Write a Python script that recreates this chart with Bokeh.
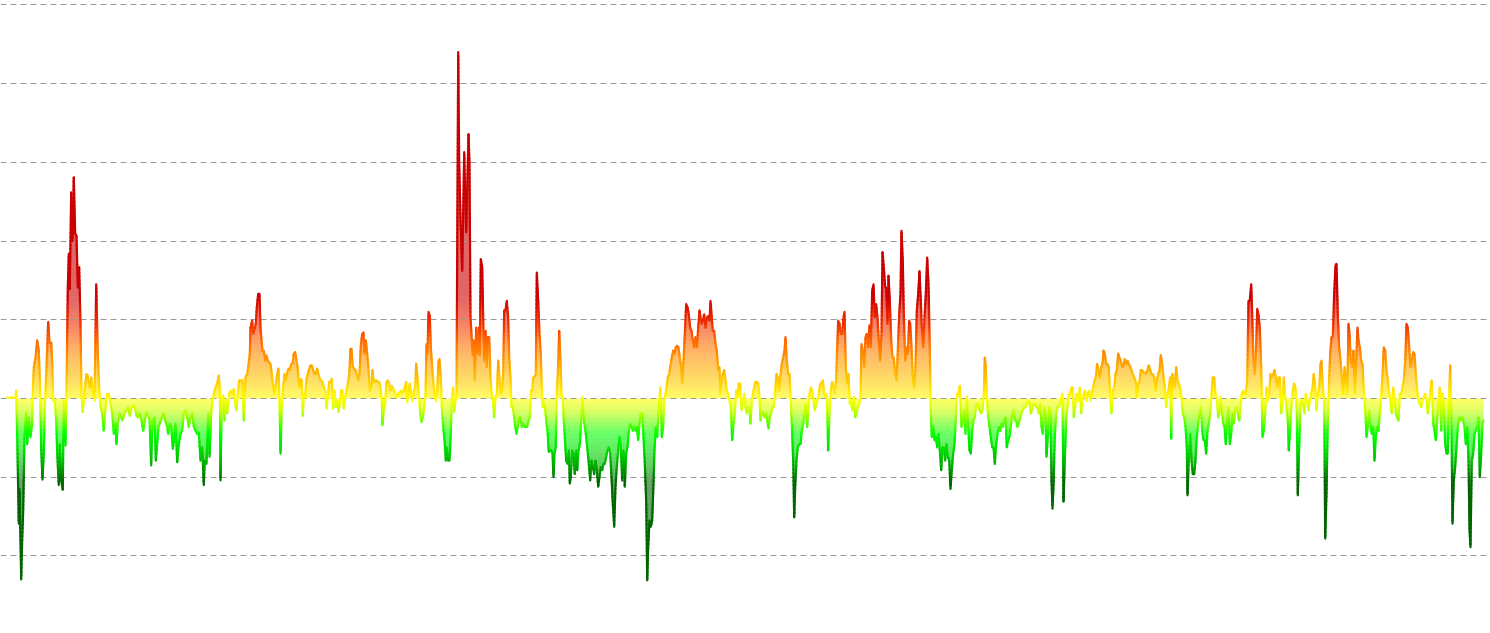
import numpy as np
from bokeh.plotting import figure
from bokeh.models import Range1d, Grid, SingleIntervalTicker
from bokeh.embed import file_html
from bokeh.resources import INLINE

# (day, value) readings, split into consecutive stretches of the series
seg1 = [(6.7, 0.01), (15, 0.01), (15.7, 0.10), (16.7, -0.50), (18.3, -1.59), (19, -1.15), (20.7, -2.30), (21.7, -1.80),
        (22.7, -1.42), (24, -0.49), (25.7, -0.17), (26.7, -0.58), (28.3, -0.24), (30, -0.49), (31.7, -0.32), (32.3, 0.10),
        (33.3, 0.40), (35, 0.52), (36.7, 0.74), (38.3, 0.61), (39.3, 0.27), (40.7, -0.66), (42, -1.03), (43.3, -0.70),
        (44.3, -0.11), (45.7, 0.31), (47.7, 0.97), (49, 0.71), (50.7, 0.71), (51.7, 0.48), (52.7, -0.03), (54.3, -0.03),
        (55.7, -0.28), (56.7, -0.70), (58.3, -1.10), (59.3, -0.58), (60.7, -1.04), (62.3, -1.16), (63.3, -0.03), (65, -0.60),
        (66, 0.10), (67.3, 1.41), (68.3, 1.84), (69.3, 1.39), (70.7, 2.62), (72, 2.00), (73.3, 2.81), (74.7, 2.09),
        (76, 2.07), (77.3, 1.41), (78.7, 1.67), (80, 0.95), (81, 0.06), (82.3, -0.17), (84, 0.10), (86, 0.31),
        (87.3, 0.29), (89.3, 0.14), (90.7, 0.27), (92.3, 0.10), (94, -0.03), (95.7, 1.45), (97.3, 0.57), (98.7, 0.14),
        (100, -0.11), (101.7, -0.19), (103.3, -0.41), (105, -0.11), (106.7, 0.06), (108.3, 0.06), (110, -0.07), (111.7, -0.19),
        (113.3, -0.45), (115, -0.32), (116, -0.58), (117.3, -0.32), (119.3, -0.19), (120.7, -0.24), (122, -0.28), (124, -0.19),
        (126, -0.15), (127.3, -0.11), (129.3, -0.22), (130.7, -0.13), (132.7, -0.09), (134.3, -0.11), (136, -0.22), (137.3, -0.24),
        (139.3, -0.19), (140.7, -0.26), (142.7, -0.41), (144, -0.32), (145.7, -0.17), (147.3, -0.22), (149, -0.26), (150.7, -0.85),
        (152, -0.28), (154, -0.24), (155.3, -0.79), (156.7, -0.58), (158, -0.36), (159.3, -0.32), (161.3, -0.24), (163.3, -0.19),
        (164.7, -0.28), (166.7, -0.36), (167.7, -0.45), (169.3, -0.32), (170.7, -0.36), (172.3, -0.64), (173.7, -0.53), (175, -0.32),
        (176.7, -0.81), (178.3, -0.58), (180, -0.45), (181.7, -0.41), (183.3, -0.19), (185, -0.15), (186.7, -0.24), (188.3, -0.36),
        (190, -0.24), (191.7, -0.19), (193.3, -0.36), (195, -0.41), (196.7, -0.45), (198.3, -0.43), (200, -0.79), (201.7, -0.62),
        (203.3, -1.10), (204.3, -0.79), (206, -0.83), (207.7, -0.19), (209, -0.74), (210.7, -0.19), (212, -0.03), (213.3, 0.06),
        (215, 0.14), (216.7, 0.19), (218.3, 0.29), (219.3, 0.14), (220, -1.04), (221.3, -0.03), (222.7, 0.04), (224, -0.28),
        (225.3, -0.03), (226.7, -0.19), (228.7, 0.06), (230, 0.10), (231.7, 0.06), (233.3, 0.12), (234.7, -0.07), (236, -0.15),
        (237.3, 0.06), (238.7, 0.23), (240, 0.23), (242, 0.23), (243.3, -0.28), (245, 0.27), (246.7, 0.31), (248.3, 0.46),
        (249.3, 0.57)]

seg2 = [(250, 0.90), (251.7, 0.99), (252.7, 0.82), (254, 0.88), (255.3, 0.95), (256.3, 1.16), (257.7, 1.33), (259, 1.33),
        (260, 0.90), (261, 0.74), (262, 0.61), (263.3, 0.61), (264.7, 0.48), (266, 0.55), (267.3, 0.48), (268.7, 0.46),
        (270, 0.44), (271.3, 0.31), (272.7, 0.14), (274, 0.06), (275.3, 0.19), (276.7, 0.31), (278, 0.38), (279, -0.03),
        (280, -0.70), (281.3, -0.11), (282.7, 0.14), (284, 0.31), (285.3, 0.23), (286.7, 0.33), (288, 0.38), (289.3, 0.36),
        (290.7, 0.44), (292, 0.44), (293.3, 0.57), (294.7, 0.59), (296, 0.48), (297.3, 0.38), (298.7, 0.14), (300, 0.25),
        (301.3, 0.23), (302.3, -0.22), (303.3, 0.06), (304.7, 0.02), (306, 0.25), (307.3, 0.31), (308.7, 0.38), (310, 0.42),
        (311.3, 0.42), (312.7, 0.36), (314, 0.31), (315.3, 0.31), (316.7, 0.38), (318, 0.31), (319.3, 0.25), (320.7, 0.23),
        (322, 0.21), (323.3, 0.14), (324.7, 0.10), (326, -0.13), (327.3, 0.02), (328.7, 0.21), (330, 0.21), (331.3, 0.25),
        (332.7, -0.13), (334, 0.10), (335.3, -0.11), (336.7, -0.03), (338, -0.17), (339.3, -0.07), (340.7, 0.10), (342, 0.10),
        (343.3, -0.13), (344.7, 0.02), (346, 0.10), (347.3, 0.19), (348.7, 0.31), (350, 0.63), (351, 0.63), (352.3, 0.40),
        (353.7, 0.38), (355, 0.36), (356.3, 0.31), (357.7, 0.23), (359, 0.31), (360.3, 0.67), (361.7, 0.82), (363, 0.84),
        (364, 0.57), (365.3, 0.74), (366.7, 0.57), (368, 0.38), (369.3, 0.10), (370.7, 0.14), (372, 0.36), (373.3, 0.21),
        (374.7, 0.23), (376, 0.23), (377.3, 0.21), (378.7, 0.21), (380, 0.14), (381.3, -0.03), (382, -0.34), (383.3, -0.13),
        (384.7, -0.07), (385.7, 0.19), (387, 0.23), (388.3, 0.21), (389.7, 0.10), (391, 0.16), (392.3, 0.14), (393.7, 0.10),
        (395, 0.06), (396.3, 0.02), (397.7, 0.06), (399, 0.08), (400.3, 0.10), (401.7, 0.06), (403, 0.10), (404.3, 0.14),
        (405.7, 0.21), (406.7, -0.05), (408, 0.10), (409.3, 0.19), (410.7, 0.06), (412, -0.03), (413.3, 0.10), (414.7, 0.14),
        (415.7, 0.44), (417, 0.27), (418.3, 0.06), (419.7, -0.19), (421, -0.30), (422.3, -0.24), (423.7, -0.11), (425, 0.06),
        (426, 0.69), (427, 0.57), (428, 1.10), (429.3, 1.05), (430.3, 0.65), (431.3, 0.48), (432.7, 0.23), (434, 0.06),
        (435.3, -0.03), (436.7, 0.10), (438, 0.48), (439, 0.50), (440.3, 0.27), (441.3, -0.11), (442.7, -0.36), (444, -0.53),
        (445.3, -0.79), (446.3, -0.62), (447.7, -0.79), (449, -0.79), (450.3, -0.45), (451.3, -0.03), (452.7, 0.14), (453.7, -0.17),
        (455, -0.03), (456, 0.06), (457.7, 4.40), (458.7, 3.00), (460, 2.30), (461.7, 1.62), (463.7, 3.13), (465.7, 2.11),
        (468, 3.36), (469, 2.99), (470, 1.03), (472.3, 0.55), (473.3, 0.74), (474.3, 0.23), (475.7, 0.90), (477, 0.57),
        (478.3, 0.90), (479.3, 0.55), (480.3, 1.77), (481.7, 1.67), (482.7, 1.03), (483.7, 0.48), (485, 0.86), (486.3, 0.40),
        (487.3, 0.78), (488.7, 0.78)]

seg3 = [(490, 0.27), (491, 0.06), (492.3, 0.02), (493.7, -0.24), (495, 0.02), (496.3, 0.06), (497.7, 0.48), (498.7, 0.31),
        (500, 0.06), (501.3, 0.10), (502.7, 0.31), (503.7, 1.12), (505, 1.12), (506.3, 1.24), (507.7, 1.03), (508.7, 0.52),
        (510, 0.27), (511, -0.11), (512.3, -0.11), (513.7, -0.24), (514.7, -0.36), (516, -0.45), (517.3, -0.36), (518.7, -0.24),
        (520, -0.24), (521.3, -0.36), (522.7, -0.32), (524, -0.36), (525.3, -0.36), (526.7, -0.36), (528, -0.28), (529.3, -0.24),
        (530.7, 0.10), (531.7, 0.10), (532.7, 0.27), (534, 0.27), (535.3, 0.31), (536.3, 1.60), (537.7, 1.24), (539, 0.82),
        (540.3, 0.57), (541.3, 0.14), (542.3, -0.11), (543.7, -0.07), (544.7, -0.15), (546, -0.32), (547, -0.41), (548.3, -0.68),
        (549.7, -0.66), (551, -0.66), (552, -0.70), (553, -1.00), (554, -0.70), (555.3, -0.62), (556.3, 0.10), (557.3, 0.31),
        (558.7, 0.86), (560, 0.48), (561, 0.06), (562.3, -0.03), (563.3, -0.28), (564.7, -0.58), (565.7, -0.79), (567, -0.83),
        (568.3, -0.66), (569.3, -1.08), (570.3, -1.00), (571.7, -0.66), (573, -0.70), (574.3, -0.96), (575.7, -0.66), (576.7, -0.91),
        (578, -0.66), (579.3, -0.58), (580.7, -0.28), (582, 0.02), (583.3, -0.28), (584.3, -0.36), (585.7, -0.49), (587, -0.66),
        (588.3, -0.83), (589.7, -1.04), (591, -0.79), (592.3, -0.87), (593.7, -0.96), (595, -0.79), (596.3, -0.91), (597.7, -1.12),
        (599, -1.00), (600.3, -0.87), (601.7, -0.91), (603, -0.83), (604.3, -0.83), (605.7, -0.74), (607, -0.66), (608.3, -0.62),
        (609.7, -0.70), (611, -1.00), (612.3, -1.34), (613.7, -1.63), (615, -1.12), (616.3, -0.87), (617.7, -0.66), (619, -0.49),
        (620.3, -0.62), (621.7, -1.04), (623, -0.66), (624.3, -1.12), (625.7, -0.70), (627, -0.62), (628.3, -0.41), (629.7, -0.32),
        (631, -0.36), (632.3, -0.41), (633.7, -0.36), (635, -0.41), (636.3, -0.36), (637.7, -0.53), (639, -0.32), (640.3, -0.19),
        (641.7, -0.19), (643, -0.49), (644.3, -0.83), (645.7, -1.31), (646.7, -2.31), (647.7, -1.89), (649, -1.55), (650.3, -1.63),
        (651.7, -1.55), (653, -1.08), (654, -0.66), (655.3, -0.36), (656.7, -0.49), (658, -0.19), (659.3, 0.06), (660, 0.14),
        (661.3, -0.49), (662.7, -0.36), (663.7, -0.03), (665, 0.06), (666, 0.14), (667.3, 0.27), (668.7, 0.31), (670, 0.42),
        (671.3, 0.52), (672.7, 0.61), (674, 0.57), (675.3, 0.65), (676.7, 0.67), (678, 0.65), (679.3, 0.52), (680.7, 0.40),
        (681.7, 0.19), (683, 0.48), (684.3, 0.82), (685.7, 1.20), (687, 1.16), (688.3, 1.07), (689.7, 0.90), (691, 0.86),
        (692.3, 0.74), (693.7, 0.65), (695, 0.78), (696.3, 0.65), (697.7, 0.90), (699, 1.12), (700, 1.03), (701.3, 0.95),
        (702.3, 0.99), (703.7, 1.07), (705, 0.90), (706.3, 1.03), (707.7, 1.05), (709, 0.99), (710, 1.24), (711.3, 1.03),
        (712.3, 0.86), (713.7, 0.86), (715, 0.69), (716.3, 0.61), (717.7, 0.36), (719, 0.40), (719.7, 0.06), (721, 0.23),
        (722.3, 0.31)]

seg4 = [(723.7, 0.36), (725, 0.23), (726.3, 0.10), (727.7, 0.06), (729, -0.03), (730.3, -0.11), (731.7, -0.53), (733, -0.32),
        (734.3, -0.19), (735.7, 0.10), (737, 0.02), (738.3, 0.19), (739.7, 0.19), (741, -0.15), (742.3, -0.07), (743.7, 0.06),
        (745, -0.11), (746.3, -0.19), (747.7, -0.11), (749, -0.15), (750, -0.32), (751.3, -0.03), (752.3, 0.06), (753.7, 0.14),
        (755, 0.21), (756.3, 0.21), (757.7, 0.19), (758.7, 0.06), (760, -0.28), (761.3, -0.19), (762.7, -0.17), (764, -0.24),
        (765.3, -0.19), (766.7, -0.28), (768, -0.38), (769.3, -0.24), (770.7, -0.19), (772, -0.11), (773.3, -0.11), (774.7, 0.10),
        (776, 0.31), (777.3, 0.27), (778.7, 0.10), (780, 0.31), (781.3, 0.44), (782.7, 0.52), (784, 0.61), (785, 0.78),
        (786.3, 0.48), (787.7, 0.31), (789, 0.31), (790.3, -0.03), (791.3, -0.32), (792.7, -0.79), (793.7, -1.51), (794.7, -1.12),
        (796, -0.79), (797.3, -0.62), (798.7, -0.58), (800, -0.58), (801.3, -0.41), (802.7, -0.32), (804, -0.19), (805.3, -0.07),
        (806.7, -0.36), (807.7, -0.19), (809, 0.06), (810.3, 0.14), (811.7, 0.10), (813, -0.03), (814.3, -0.15), (815.7, -0.07),
        (817, -0.03), (818.3, 0.06), (819.7, 0.19), (821, 0.19), (822.3, 0.23), (823.7, 0.06), (825, 0.02), (826.3, 0.06),
        (827.7, -0.66), (829, -0.19), (830.3, 0.10), (831.7, 0.21), (833, 0.14), (834.3, 0.06), (835.7, 0.27), (836.7, 0.65),
        (837.7, 0.99), (839, 0.95), (840.3, 0.82), (841.7, 0.82), (843, 1.03), (844, 1.10), (845.3, 0.40), (846.7, 0.19),
        (848, 0.31), (849.3, -0.07), (850.7, -0.07), (852, -0.15), (853.3, 0.02), (854.7, -0.24), (856, -0.19), (857.3, -0.11),
        (858.7, -0.07), (860, 0.02), (861, 0.69), (862.3, 0.61), (863.7, 0.40), (865, 0.78), (866.3, 0.82), (867.7, 0.65),
        (869, 0.93), (870.3, 0.65), (871.7, 1.37), (873, 1.45), (874.3, 1.03), (875.7, 1.20), (877, 1.03), (878.3, 0.74),
        (879.7, 0.48), (881, 0.82), (882, 1.86), (883.3, 1.67), (884.7, 1.41), (885.7, 1.41), (887, 0.95), (888, 1.56),
        (889.3, 1.24), (890.7, 0.74), (892, 0.52), (893.3, 0.52), (894.7, 0.31), (896, 0.23), (897.3, 0.61), (898.7, 1.07),
        (900, 1.33), (901, 2.13), (902.3, 1.75), (903.3, 1.07), (904.7, 0.48), (906, 0.65), (907.3, 0.57), (908.7, 0.99),
        (909.7, 0.95), (911, 0.65), (912.3, 0.27), (913.7, 0.14), (915, 0.40), (916.3, 1.12), (917.7, 1.33), (919, 1.62),
        (920.3, 1.24), (921.3, 0.90), (922.7, 0.65), (924, 1.03), (925.3, 1.33), (926.7, 1.79), (928, 1.45), (929.3, 0.65),
        (930.3, -0.19), (931.3, -0.49), (932.7, -0.36), (934, -0.53), (935.3, -0.49), (936.7, -0.62), (938, -0.45), (939.3, -0.66),
        (940.7, -0.91), (942, -0.62), (943.3, -0.62), (944.7, -0.79), (946, -0.58), (947.3, -0.74), (948.7, -0.79), (950, -1.15),
        (951.3, -0.91), (952.7, -0.70), (954, -0.58), (955.3, -0.24), (956.7, 0.06), (958, 0.06), (959.3, 0.16)]

seg5 = [(961, -0.36), (962.3, -0.28), (963.7, -0.15), (965, -0.45), (966.3, 0.02), (967.7, -0.36), (969, -0.66), (970.3, -0.70),
        (971.7, -0.41), (973, -0.28), (974.3, -0.24), (975.7, -0.07), (977, -0.07), (978.3, -0.11), (979.7, -0.17), (981, -0.19),
        (982.3, -0.11), (983.3, 0.06), (984.3, 0.52), (985.3, 0.40), (986.3, 0.02), (987.7, -0.24), (989, -0.36), (990.3, -0.49),
        (991.7, -0.62), (993, -0.62), (994.3, -0.83), (995.7, -0.58), (997, -0.45), (998.3, -0.36), (999.7, -0.41), (1001, -0.32),
        (1002.3, -0.36), (1003.7, -0.28), (1005, -0.24), (1006.3, -0.62), (1007.7, -0.53), (1009, -0.49), (1010.3, -0.36), (1011.7, -0.19),
        (1013, -0.15), (1014.3, -0.28), (1015.7, -0.28), (1017, -0.36), (1018.3, -0.32), (1019.7, -0.24), (1021, -0.19), (1022.3, -0.15),
        (1023.7, -0.11), (1025, -0.11), (1026.3, -0.07), (1027.7, -0.03), (1029, -0.05), (1030.3, -0.19), (1031.7, -0.15), (1033, -0.07),
        (1034.3, -0.07), (1035.7, -0.11), (1037, -0.11), (1038.3, -0.19), (1039.7, -0.07), (1041, -0.36), (1042.3, -0.45), (1043.7, -0.11),
        (1045, -0.19), (1046, -0.74), (1047.3, -0.49), (1048.7, -0.11), (1050, -0.19), (1051, -1.04), (1052, -1.40), (1053, -1.12),
        (1054.3, -0.49), (1055.7, -0.19), (1057, -0.11), (1058.3, -0.11), (1059.7, -0.07), (1061, 0.02), (1062, 0.06), (1063, -1.31),
        (1064.3, -0.79), (1065.7, -0.28), (1067, -0.11), (1068.3, 0.06), (1069.7, 0.06), (1071, 0.14), (1072.3, 0.14), (1073.3, -0.24),
        (1074.7, -0.11), (1076, 0.06), (1077, 0.06), (1078.3, -0.03), (1079.3, 0.14), (1080.7, -0.19), (1082, -0.03), (1083.3, 0.06),
        (1084.7, 0.10), (1086, -0.03), (1087.3, 0.06), (1088.7, 0.10), (1090, -0.03), (1091.3, 0.06), (1092.7, 0.14), (1094, 0.23),
        (1095.3, 0.27), (1096.7, 0.44), (1098, 0.36), (1099.3, 0.27), (1100.7, 0.40), (1102, 0.44), (1103, 0.61), (1104.3, 0.57),
        (1105.7, 0.44), (1107, 0.44), (1108.3, 0.40), (1109.7, 0.02), (1111, -0.19), (1112.3, 0.10), (1113.7, 0.14), (1115, 0.31),
        (1116.3, 0.36), (1117.7, 0.57), (1119, 0.52), (1120.3, 0.48), (1121.7, 0.40), (1123, 0.42), (1124.3, 0.50), (1125.7, 0.44),
        (1127, 0.48), (1128.3, 0.44), (1129.7, 0.40), (1131, 0.36), (1132.3, 0.31), (1133.7, 0.27), (1135, 0.23), (1136.3, 0.02),
        (1137.7, 0.19), (1139, 0.21), (1140.3, 0.36), (1141.7, 0.36), (1143, 0.33), (1144.3, 0.33), (1145.7, 0.31), (1147, 0.36),
        (1148.3, 0.42), (1149.7, 0.36), (1151, 0.31), (1152.3, 0.31), (1153.7, 0.27), (1155, 0.10), (1156.3, 0.23), (1157.7, 0.31),
        (1159, 0.36), (1160.3, 0.55), (1161.7, 0.44), (1163, 0.27), (1164.3, 0.14), (1165.7, -0.11), (1167, 0.06), (1168.3, 0.14),
        (1169.7, 0.27), (1170.7, -0.51), (1171.7, 0.31), (1173, 0.27), (1174.3, 0.14), (1175.7, 0.40), (1177, 0.23), (1178.3, 0.19),
        (1179.7, 0.14), (1181, 0.02), (1182.3, -0.19), (1183.7, -0.24), (1185, -0.36), (1186.3, -0.62), (1187, -1.23), (1188.3, -0.79),
        (1189.7, -0.45), (1191, -0.79), (1192.3, -0.96), (1193.7, -0.96), (1195, -0.79), (1196.3, -0.49), (1197.7, -0.32), (1199, -0.19),
        (1200.3, -0.11), (1201.7, -0.41), (1203, -0.53), (1204.3, -0.53), (1205.7, -0.70), (1207, -0.41), (1208.3, -0.32), (1209.7, -0.19),
        (1211, 0.06), (1212.3, 0.27), (1213.7, 0.27), (1215, 0.06), (1216.3, 0.02), (1217.7, -0.24), (1219, -0.19)]

seg6 = [(1220, 0.02), (1221.3, -0.15), (1222.7, -0.32), (1224, -0.36), (1225.3, -0.58), (1226.7, -0.28), (1228, -0.11), (1229.3, -0.58),
        (1230.7, -0.45), (1232, -0.19), (1233.3, -0.32), (1234.7, -0.15), (1236, -0.11), (1237.3, -0.19), (1238.7, -0.28), (1240, -0.11),
        (1241.3, 0.06), (1242.7, 0.10), (1244, 0.06), (1245.3, 0.06), (1246.7, 0.23), (1248, 1.24), (1249.3, 1.24), (1250.7, 1.45),
        (1251.7, 1.07), (1253, 0.48), (1254.3, 0.31), (1255.7, 0.69), (1256.7, 1.14), (1258, 1.07), (1259.3, 0.90), (1260.7, 0.40),
        (1262, -0.49), (1263.3, -0.41), (1264.7, -0.19), (1266, 0.14), (1267.3, -0.03), (1268.7, 0.06), (1270, 0.31), (1271.3, 0.27),
        (1272.7, 0.31), (1274, 0.36), (1275.3, 0.27), (1276.7, 0.14), (1278, 0.27), (1279.3, 0.27), (1280.7, -0.19), (1282, -0.07),
        (1283.3, 0.27), (1284.7, 0.02), (1286, -0.11), (1287.3, -0.28), (1288.3, -0.66), (1289.7, -0.36), (1291, -0.07), (1292.3, 0.10),
        (1293.7, 0.19), (1295, 0.14), (1296.3, -0.19), (1297.3, -1.23), (1298.7, -0.62), (1300, -0.11), (1301.3, -0.03), (1302.7, -0.07),
        (1304, -0.19), (1305.3, 0.06), (1306.7, -0.03), (1308, -0.15), (1309.3, -0.03), (1310.7, 0.06), (1312, 0.14), (1313.3, 0.31),
        (1314.7, 0.14), (1316, -0.15), (1317.3, 0.06), (1318.7, 0.14), (1320, 0.44), (1321, 0.48), (1322.3, 0.14), (1323.7, -0.03),
        (1324.7, -1.78), (1326, -1.21), (1327.3, -0.32), (1328.7, 0.27), (1329.7, 0.57), (1331, 0.78), (1332.3, 0.78), (1333.7, 1.33),
        (1335, 1.69), (1336, 1.71), (1337.3, 1.07), (1338.7, 0.65), (1340, 0.48), (1341.3, 0.27), (1342.7, 0.06), (1344, 0.40),
        (1345.3, 0.31), (1346.7, 0.06), (1348, 0.95), (1349, 0.82), (1350.3, 0.48), (1351.7, 0.40), (1353, 0.61), (1354.3, 0.06),
        (1355.7, 0.48), (1357, 0.90), (1358, 0.74), (1359.3, 0.65), (1360.7, 0.48), (1362, 0.44), (1363.3, 0.10), (1364.7, -0.15),
        (1366, -0.49), (1367.3, -0.36), (1368.7, -0.15), (1370, -0.36), (1371.3, -0.45), (1372.7, -0.36), (1374, -0.79), (1375.3, -0.49),
        (1376.7, -0.36), (1378, -0.41), (1379.3, -0.19), (1380.7, 0.02), (1382, 0.31), (1383.3, 0.65), (1384.7, 0.61), (1386, 0.36),
        (1387.3, 0.23), (1388.7, 0.06), (1390, -0.03), (1391.3, -0.19), (1392.7, 0.14), (1394, 0.02), (1395.3, -0.19), (1396.7, -0.24),
        (1398, -0.28), (1399.3, 0.06), (1400.7, 0.06), (1402, 0.14), (1403.3, 0.23), (1404.7, 0.48), (1406, 0.95), (1407.3, 0.90),
        (1408.7, 0.65), (1410, 0.40), (1411.3, 0.48), (1412.7, 0.59), (1414, 0.57), (1415.3, 0.31), (1416.7, 0.10), (1418, -0.03),
        (1419.3, -0.07), (1420.7, -0.11), (1422, -0.03), (1423.3, 0.02), (1424.7, 0.06), (1426, -0.03), (1427.3, -0.19), (1428.7, -0.07),
        (1430, 0.10), (1431.3, 0.23), (1432.7, -0.32), (1434, -0.41), (1435.3, -0.53), (1436.7, -0.28), (1438, -0.03), (1439.3, 0.14),
        (1440.7, -0.41), (1442, 0.06), (1443.3, -0.11), (1444.7, -0.58), (1446, -0.70), (1447.3, -0.70), (1448.7, 0.06), (1449.7, 0.42),
        (1451, -0.36), (1452, -1.59), (1453.3, -1.04), (1454.7, -0.87), (1456, -0.62), (1457.3, -0.36), (1458.7, -0.24), (1460, -0.28),
        (1461.3, -0.24), (1462.7, -0.28), (1464, -0.36), (1465.3, -0.58), (1466.7, -0.36), (1468, -0.79), (1469, -1.67), (1470, -1.89),
        (1471.3, -0.79), (1472.7, -0.70), (1474, -0.45), (1475.3, -0.41), (1476.7, -0.36), (1478, -0.24), (1479.3, -1.00), (1480.7, -0.70),
        (1482, -0.32), (1483, -0.28)]

# colour ramp of the visual map (value -> colour)
ramp_values = [-2.6, -1.05, -0.85, -0.65, -0.45, -0.3, -0.15, 0.0, 0.2, 0.45, 0.7, 0.95, 1.3, 4.6]
ramp_colors = ["#006600", "#006600", "#00aa00", "#00dd00", "#00ff00", "#66ff00", "#ccff00",
               "#ffff00", "#ffd000", "#ffa000", "#ff7000", "#f03000", "#cc0000", "#cc0000"]
fill_alpha = 0.6

segments = [seg1, seg2, seg3, seg4, seg5, seg6]
day = np.array([d for s in segments for d, _ in s], dtype=float)
val = np.array([v for s in segments for _, v in s], dtype=float)

rgb = np.array([[int(c[i:i + 2], 16) for i in (1, 3, 5)] for c in ramp_colors], dtype=float)


def ramp(v, alpha=1.0):
    c = np.array([np.interp(v, ramp_values, rgb[:, k]) for k in range(3)])
    c = c * alpha + 255.0 * (1 - alpha)
    return "#%02x%02x%02x" % tuple(int(round(x)) for x in c)


step = 0.05
levels = np.round(np.arange(-2.6, 4.6 + 1e-9, step), 6)

# split the polyline where it crosses colour levels (rendering only)
xs, vs = [day[0]], [val[0]]
for i in range(len(day) - 1):
    x0, x1, v0, v1 = day[i], day[i + 1], val[i], val[i + 1]
    if v1 != v0:
        lo, hi = min(v0, v1), max(v0, v1)
        cr = levels[(levels > lo) & (levels < hi)]
        if v1 < v0:
            cr = cr[::-1]
        for c in cr:
            f = (c - v0) / (v1 - v0)
            xs.append(x0 + f * (x1 - x0))
            vs.append(c)
    xs.append(x1)
    vs.append(v1)
xs = np.array(xs)
vs = np.array(vs)


def runs(mask):
    out = []
    n = len(mask)
    i = 0
    while i < n:
        if mask[i]:
            j = i
            while j + 1 < n and mask[j + 1]:
                j += 1
            out.append((max(i - 1, 0), min(j + 1, n - 1)))
            i = j + 1
        else:
            i += 1
    return out


eps = 0.008
pxs, pys, pcol = [], [], []
for k in range(len(levels) - 1):
    a, b = levels[k], levels[k + 1]
    mid = 0.5 * (a + b)
    col = ramp(mid, fill_alpha)
    if a >= -1e-9:
        mask = vs > a + 1e-9
        for s, e in runs(mask):
            xr = xs[s:e + 1]
            top = np.clip(vs[s:e + 1], a, b)
            bot = a - eps if a > 1e-9 else 0.0
            pxs.append(list(xr) + list(xr[::-1]))
            pys.append(list(top) + [bot] * len(xr))
            pcol.append(col)
    elif b <= 1e-9:
        mask = vs < b - 1e-9
        for s, e in runs(mask):
            xr = xs[s:e + 1]
            bottom = np.clip(vs[s:e + 1], a, b)
            top = b + eps if b < -1e-9 else 0.0
            pxs.append(list(xr) + list(xr[::-1]))
            pys.append(list(bottom) + [top] * len(xr))
            pcol.append(col)

# line pieces grouped by colour band
mids = 0.5 * (vs[:-1] + vs[1:])
band = np.floor((mids - levels[0]) / step + 1e-9).astype(int)
lxs, lys, lcol = [], [], []
i = 0
n = len(band)
while i < n:
    j = i
    while j + 1 < n and band[j + 1] == band[i]:
        j += 1
    lxs.append(list(xs[i:j + 2]))
    lys.append(list(vs[i:j + 2]))
    lcol.append(ramp(levels[0] + (band[i] + 0.5) * step))
    i = j + 1

p = figure(width=1490, height=633, x_range=Range1d(0, 1490), y_range=Range1d(-2.986, 5.057),
           output_backend="svg", toolbar_location=None, x_axis_location=None, y_axis_location=None,
           min_border=0, background_fill_color="white", border_fill_color="white")
p.outline_line_color = None
p.xgrid.visible = False
p.ygrid.visible = False
p.add_layout(Grid(dimension=1, ticker=SingleIntervalTicker(interval=1),
                  grid_line_color="#9a9a9a", grid_line_width=1, grid_line_dash="6 4"), "center")

p.patches(xs=pxs, ys=pys, fill_color=pcol, line_color=None, level="image")
p.multi_line(xs=lxs, ys=lys, line_color=lcol, line_width=2.2, line_join="round", line_cap="round")

open("out.html", "w").write(file_html(p, INLINE))
